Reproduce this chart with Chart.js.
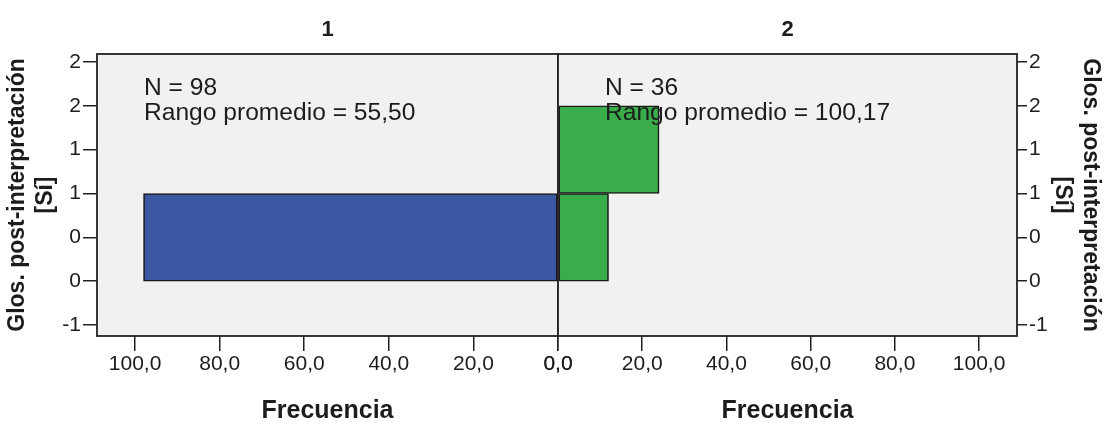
<!DOCTYPE html>
<html lang="es">
<head>
  <meta charset="UTF-8">
  <title>Glos. post-interpretación [Sí]</title>
  <script src="https://cdn.jsdelivr.net/npm/chart.js"></script>
  <style>
    html, body { margin: 0; padding: 0; background: #fff; }
    #wrap { position: relative; width: 1105px; height: 426px; }
    .panel { position: absolute; top: 0; height: 426px; }
    #boxA { left: 0; width: 575px; }
    #boxB { left: 540px; width: 565px; }
  </style>
</head>
<body>
  <div id="wrap">
    <div id="boxA" class="panel"><canvas id="chartA"></canvas></div>
    <div id="boxB" class="panel"><canvas id="chartB"></canvas></div>
  </div>

  <script>
    // datos
    const yValues = [0, 1];
    const freqGroup1 = [98, 0];
    const freqGroup2 = [12, 24];
    const groupNames = ['1', '2'];
    const meanRanks = ['55,50', '100,17'];
    const yTickValues = [2, 1.5, 1, 0.5, 0, -0.5, -1];
    const yTickLabels = ['2', '2', '1', '1', '0', '0', '-1'];
    const xTickValues = [0, 20, 40, 60, 80, 100];
    const xTickLabels = ['0,0', '20,0', '40,0', '60,0', '80,0', '100,0'];
    const yTitle = ['Glos. post-interpretación', '[Sí]'];
    const xTitle = 'Frecuencia';

    Chart.defaults.font.family = '"Liberation Sans", Arial, sans-serif';
    Chart.defaults.color = '#1c1c1c';

    // fondo gris y marco del área
    const framePlugin = {
      id: 'frame',
      beforeDraw(chart) {
        const a = chart.chartArea;
        const ctx = chart.ctx;
        ctx.save();
        ctx.fillStyle = '#f0f1f0';
        ctx.fillRect(a.left, a.top, a.right - a.left, a.bottom - a.top);
        ctx.restore();
      },
      afterDatasetsDraw(chart) {
        const a = chart.chartArea;
        const ctx = chart.ctx;
        ctx.save();
        ctx.strokeStyle = '#222';
        ctx.lineWidth = 1.8;
        ctx.strokeRect(a.left, a.top, a.right - a.left, a.bottom - a.top);
        ctx.restore();
      }
    };

    // texto N / rango promedio
    const statsPlugin = {
      id: 'stats',
      afterDatasetsDraw(chart, args, opts) {
        const a = chart.chartArea;
        const ctx = chart.ctx;
        ctx.save();
        ctx.font = '24.6px "Liberation Sans", Arial, sans-serif';
        ctx.fillStyle = '#1c1c1c';
        ctx.textBaseline = 'alphabetic';
        opts.lines.forEach((t, i) => {
          ctx.fillText(t, a.left + 47, a.top + 41 + i * 25);
        });
        ctx.restore();
      }
    };

    function makePanel(id, k, freqs, color, side) {
      const isLeft = side === 'left';
      const n = freqs.reduce((s, v) => s + v, 0);
      return new Chart(document.getElementById(id), {
        type: 'bar',
        data: {
          datasets: [{
            data: yValues.map((y, i) => ({ x: freqs[i], y: y })),
            backgroundColor: color,
            borderColor: '#1a1a1a',
            borderWidth: 1.6,
            borderSkipped: false,
            barThickness: 'flex',
            categoryPercentage: 1,
            barPercentage: 1
          }]
        },
        options: {
          indexAxis: 'y',
          responsive: true,
          maintainAspectRatio: false,
          animation: false,
          layout: { padding: { left: isLeft ? 0 : 18, right: isLeft ? 17 : 0, top: 0, bottom: 0 } },
          plugins: {
            legend: { display: false },
            tooltip: { enabled: false },
            title: {
              display: true,
              text: groupNames[k],
              fullSize: false,
              color: '#1c1c1c',
              font: { size: 22, weight: 'bold' },
              padding: { top: 17, bottom: 10.6 }
            },
            stats: { lines: ['N = ' + n, 'Rango promedio = ' + meanRanks[k]] }
          },
          scales: {
            x: {
              type: 'linear',
              min: 0,
              max: 109,
              bounds: 'data',
              offset: false,
              reverse: isLeft,
              afterBuildTicks: s => { s.ticks = xTickValues.map(v => ({ value: v })); },
              afterFit: s => { s.height = 90; },
              border: { display: false },
              grid: { offset: false, drawOnChartArea: false, drawTicks: true, tickLength: 15, color: '#222', lineWidth: 1.5 },
              ticks: {
                autoSkip: false,
                maxRotation: 0,
                padding: 1,
                font: { size: 21 },
                callback: (v, i) => xTickLabels[i]
              },
              title: {
                display: true,
                text: xTitle,
                font: { size: 25, weight: 'bold' },
                padding: { top: 0, bottom: 0 }
              }
            },
            y: {
              type: 'linear',
              position: side,
              min: -1.125,
              max: 2.09,
              bounds: 'data',
              offset: false,
              afterBuildTicks: s => { s.ticks = yTickValues.map(v => ({ value: v })); },
              afterFit: s => { s.width = isLeft ? 97 : 88; },
              border: { display: false },
              grid: { offset: false, drawOnChartArea: false, drawTicks: true, tickLength: isLeft ? 14 : 10, color: '#222', lineWidth: 1.5 },
              ticks: {
                autoSkip: false,
                padding: 2,
                font: { size: 21 },
                callback: (v, i) => yTickLabels[i]
              },
              title: {
                display: true,
                text: yTitle,
                font: { size: 23, weight: 'bold' },
                padding: { top: isLeft ? 4 : 1, bottom: 0 }
              }
            }
          }
        },
        plugins: [framePlugin, statsPlugin]
      });
    }

    makePanel('chartA', 0, freqGroup1, '#3c58a3', 'left');
    makePanel('chartB', 1, freqGroup2, '#39ad4a', 'right');
  </script>
</body>
</html>
